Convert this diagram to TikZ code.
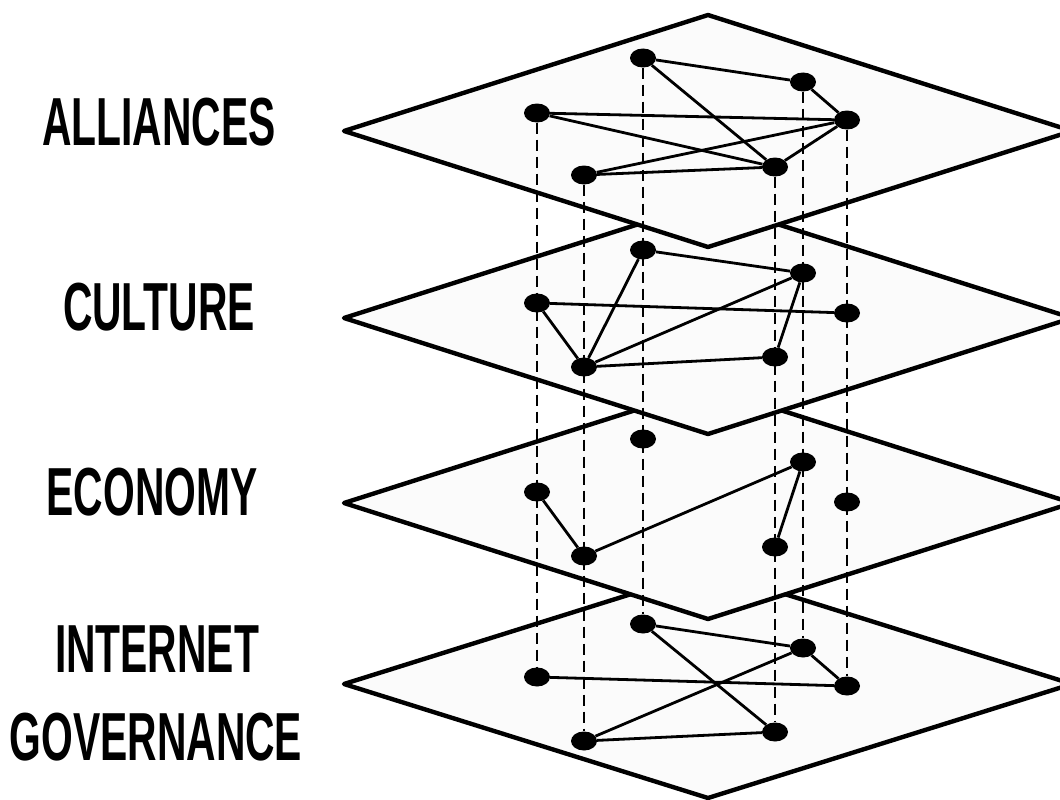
\documentclass[tikz,border=0pt]{standalone}
\usepackage{fontspec}
\usetikzlibrary{shapes.geometric}
\newfontfamily\lblfont[FakeStretch=0.6]{Liberation Sans}
\begin{document}
\begin{tikzpicture}[x=1pt,y=-1pt,
  plane/.style={draw=black,fill=black!1.5,line width=4.4pt,line join=round},
  link/.style={line width=2.8pt},
  vlink/.style={line width=2.3pt,dash pattern=on 11pt off 6pt},
  dot/.style={ellipse,fill=black,minimum width=26pt,minimum height=19pt,inner sep=0pt},
  lbl/.style={font=\lblfont\bfseries\fontsize{68}{68}\selectfont,anchor=base,inner sep=0pt}]
\useasboundingbox (0,0) rectangle (1060,800);

% labels
\node[lbl] (tA) at (159,145) {ALLIANCES};
\node[lbl] (tC) at (159,330) {CULTURE};
\node[lbl] (tE) at (152,515) {ECONOMY};
\node[lbl] (tI) at (157,672) {INTERNET};
\node[lbl] (tG) at (156,760) {GOVERNANCE};

% ---------- Internet governance layer ----------
\path[plane] (344,684) -- (708,570) -- (1072,684) -- (708,798) -- cycle;
\node[dot] (i1) at (643,624) {};
\node[dot] (i2) at (803,648) {};
\node[dot] (i3) at (537,677) {};
\node[dot] (i4) at (847,686) {};
\node[dot] (i5) at (584,741) {};
\node[dot] (i6) at (775,732) {};
\draw[link] (i1) -- (i2);
\draw[link] (i1) -- (i6);
\draw[link] (i3) -- (i4);
\draw[link] (i2) -- (i4);
\draw[link] (i5) -- (i2);
\draw[link] (i5) -- (i6);

% ---------- Economy layer ----------
\path[plane] (344,503) -- (708,387) -- (1072,503) -- (708,619) -- cycle;
\node[dot] (e1) at (643,439) {};
\node[dot] (e2) at (803,462) {};
\node[dot] (e3) at (537,492) {};
\node[dot] (e4) at (847,502) {};
\node[dot] (e5) at (584,556) {};
\node[dot] (e6) at (775,547) {};
\draw[link] (e3) -- (e5);
\draw[link] (e5) -- (e2);
\draw[link] (e2) -- (e6);

% ---------- Culture layer ----------
\path[plane] (344,318) -- (708,202) -- (1072,318) -- (708,434) -- cycle;
\node[dot] (c1) at (643,250) {};
\node[dot] (c2) at (803,273) {};
\node[dot] (c3) at (537,303) {};
\node[dot] (c4) at (847,313) {};
\node[dot] (c5) at (584,367) {};
\node[dot] (c6) at (775,357) {};
\draw[link] (c1) -- (c2);
\draw[link] (c1) -- (c5);
\draw[link] (c3) -- (c4);
\draw[link] (c3) -- (c5);
\draw[link] (c5) -- (c2);
\draw[link] (c5) -- (c6);
\draw[link] (c6) -- (c2);

% ---------- Alliances layer ----------
\path[plane] (344,131) -- (708,15) -- (1072,131) -- (708,247) -- cycle;
\node[dot] (a1) at (643,58) {};
\node[dot] (a2) at (803,82) {};
\node[dot] (a3) at (537,113) {};
\node[dot] (a4) at (847,120) {};
\node[dot] (a5) at (584,175) {};
\node[dot] (a6) at (775,167) {};
\draw[link] (a1) -- (a2);
\draw[link] (a1) -- (a6);
\draw[link] (a2) -- (a4);
\draw[link] (a3) -- (a4);
\draw[link] (a3) -- (a6);
\draw[link] (a5) -- (a4);
\draw[link] (a5) -- (a6);
\draw[link] (a6) -- (a4);

% ---------- vertical dashed connectors ----------
\draw[vlink] (a3) -- (i3);
\draw[vlink] (a5) -- (i5);
\draw[vlink] (a1) -- (i1);
\draw[vlink] (a6) -- (i6);
\draw[vlink] (a2) -- (i2);
\draw[vlink] (a4) -- (i4);
\end{tikzpicture}
\end{document}
